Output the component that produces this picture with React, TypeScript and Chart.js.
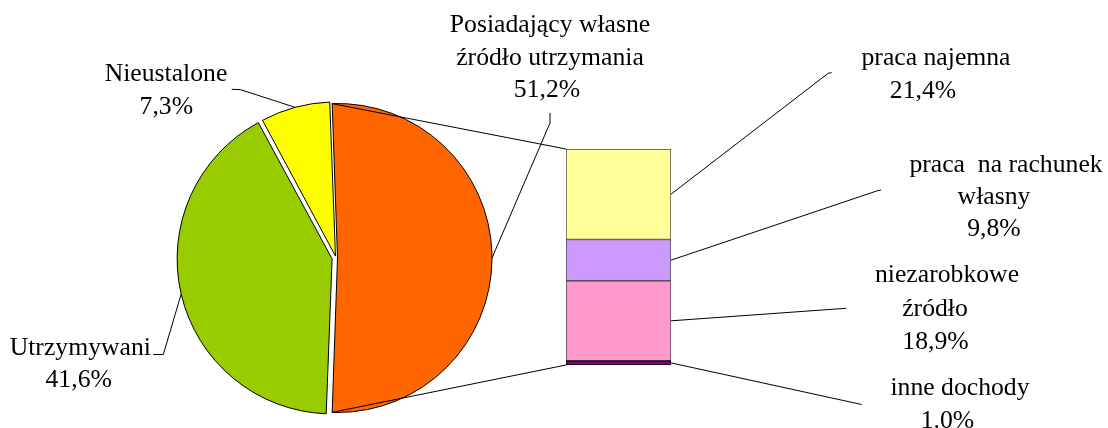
import React, { useEffect, useRef } from 'react';
import { Chart, registerables } from 'chart.js';
Chart.register(...registerables);

// ---- data ----
const pieCategories = ['Posiadający własne\nźródło utrzymania', 'Utrzymywani', 'Nieustalone'];
const pieValues = [51.2, 41.6, 7.3];
const pieValueLabels = ['51,2%', '41,6%', '7,3%'];
const pieColors = ['#FF6600', '#99CC00', '#FFFF00'];

const barCategories = ['praca najemna', 'praca  na rachunek\nwłasny', 'niezarobkowe\nźródło', 'inne dochody'];
const barValues = [21.4, 9.8, 18.9, 1.0];
const barValueLabels = ['21,4%', '9,8%', '18,9%', '1.0%'];
const barColors = ['#FFFF99', '#CC99FF', '#FF99CC', '#800080'];

// ---- layout / style ----
const W = 1108;
const H = 428;
const FONT = "25.7px 'Liberation Serif', 'Times New Roman', serif";
const pieOffsets = [6, 16, 8];
const pieLabelLayout = [
  { lines: [[550, 32.3], [550, 64.6], [547, 97]], leader: [[550, 113], [550, 123]] },
  { lines: [[80.3, 355], [78.7, 387]], leader: [[153.3, 354.5], [163.3, 354.5]] },
  { lines: [[166, 81], [166.3, 114.3]], leader: [[231.7, 89.3], [240.3, 89.6]] },
];
const barLabelLayout = [
  { lines: [[936, 65], [923, 97.7]], leader: [[831.7, 72.7], [828.3, 73.2]] },
  { lines: [[1006, 171.7], [994, 203.7], [994, 235.5]], leader: [[881, 190], [876.7, 191]] },
  { lines: [[947, 282.3], [935, 315.7], [935.5, 349]], leader: [[846, 308.3]] },
  { lines: [[960, 395], [947.5, 427.5]], leader: [[861.7, 404.5]] },
];

function arcPoint(arc: any, angle: number) {
  const off = (arc.options.offset || 0) / 4;
  const mid = (arc.startAngle + arc.endAngle) / 2;
  const fix = 1 - Math.sin(Math.min(Math.PI, arc.endAngle - arc.startAngle));
  const R = arc.outerRadius + off * fix;
  return [arc.x + Math.cos(mid) * off + Math.cos(angle) * R, arc.y + Math.sin(mid) * off + Math.sin(angle) * R];
}

function drawPolyline(ctx: CanvasRenderingContext2D, pts: number[][]) {
  ctx.beginPath();
  ctx.moveTo(pts[0][0], pts[0][1]);
  for (let i = 1; i < pts.length; i++) ctx.lineTo(pts[i][0], pts[i][1]);
  ctx.stroke();
}

export default function App() {
  const pieRef = useRef<HTMLCanvasElement>(null);
  const barRef = useRef<HTMLCanvasElement>(null);

  useEffect(() => {
    const pieSum = pieValues.reduce((a, b) => a + b, 0);
    const barSum = barValues.reduce((a, b) => a + b, 0);

    const pie = new Chart(pieRef.current!, {
      type: 'pie',
      data: {
        labels: pieCategories,
        datasets: [{
          data: pieValues,
          backgroundColor: pieColors,
          borderColor: '#000',
          borderWidth: 1,
          offset: pieOffsets,
          hoverOffset: 0,
        } as any],
      },
      options: {
        responsive: false,
        animation: false,
        events: [],
        rotation: 90 - (pieValues[0] / pieSum) * 180,
        radius: 153,
        layout: { padding: { left: 0, right: 436, top: 88, bottom: 0 } },
        plugins: { legend: { display: false }, tooltip: { enabled: false } },
      } as any,
    });

    const n = barValues.length;
    const overlay = {
      id: 'overlay',
      afterDraw(chart: any) {
        const ctx: CanvasRenderingContext2D = chart.ctx;
        const arcs = pie.getDatasetMeta(0).data as any[];
        const barEl = (i: number) => chart.getDatasetMeta(n - 1 - i).data[0] as any;
        ctx.save();
        ctx.strokeStyle = '#000';
        ctx.lineWidth = 1;
        // connector lines
        const other = arcs[0];
        const top = barEl(0);
        const bottom = barEl(n - 1);
        const left = top.x - top.width / 2;
        drawPolyline(ctx, [arcPoint(other, other.startAngle), [left, top.y]]);
        drawPolyline(ctx, [arcPoint(other, other.endAngle), [left, bottom.base]]);
        // pie leaders
        pieLabelLayout.forEach((lay, i) => {
          const a = arcs[i];
          const end = arcPoint(a, (a.startAngle + a.endAngle) / 2);
          drawPolyline(ctx, [...lay.leader, end]);
        });
        // bar leaders
        barLabelLayout.forEach((lay, i) => {
          const el = barEl(i);
          const end = [el.x + el.width / 2, (el.y + el.base) / 2];
          drawPolyline(ctx, [...lay.leader, end]);
        });
        // texts
        ctx.fillStyle = '#000';
        ctx.font = FONT;
        ctx.textAlign = 'center';
        ctx.textBaseline = 'alphabetic';
        pieLabelLayout.forEach((lay, i) => {
          const lines = [...pieCategories[i].split('\n'), pieValueLabels[i]];
          lines.forEach((t, k) => ctx.fillText(t, lay.lines[k][0], lay.lines[k][1]));
        });
        barLabelLayout.forEach((lay, i) => {
          const lines = [...barCategories[i].split('\n'), barValueLabels[i]];
          lines.forEach((t, k) => ctx.fillText(t, lay.lines[k][0], lay.lines[k][1]));
        });
        ctx.restore();
      },
    };

    const datasets = barValues.map((v, i) => ({
      label: barCategories[i],
      data: [v],
      backgroundColor: barColors[i],
      borderColor: i === n - 1 ? '#000' : '#404040',
      borderWidth: 1,
      borderSkipped: false,
      barPercentage: 1,
      categoryPercentage: 1,
    })).reverse();

    const bar = new Chart(barRef.current!, {
      type: 'bar',
      data: { labels: [''], datasets: datasets as any },
      options: {
        responsive: false,
        animation: false,
        events: [],
        layout: { padding: { left: 566, right: 437, top: 149, bottom: 63 } },
        scales: {
          x: { stacked: true, display: false },
          y: { stacked: true, display: false, min: 0, max: barSum },
        },
        plugins: { legend: { display: false }, tooltip: { enabled: false } },
      } as any,
      plugins: [overlay],
    });

    return () => {
      bar.destroy();
      pie.destroy();
    };
  }, []);

  return (
    <div style={{ position: 'fixed', left: 0, top: 0, width: W, height: H, background: '#fff' }}>
      <canvas ref={pieRef} width={W} height={H} style={{ position: 'absolute', left: 0, top: 0 }} />
      <canvas ref={barRef} width={W} height={H} style={{ position: 'absolute', left: 0, top: 0 }} />
    </div>
  );
}
